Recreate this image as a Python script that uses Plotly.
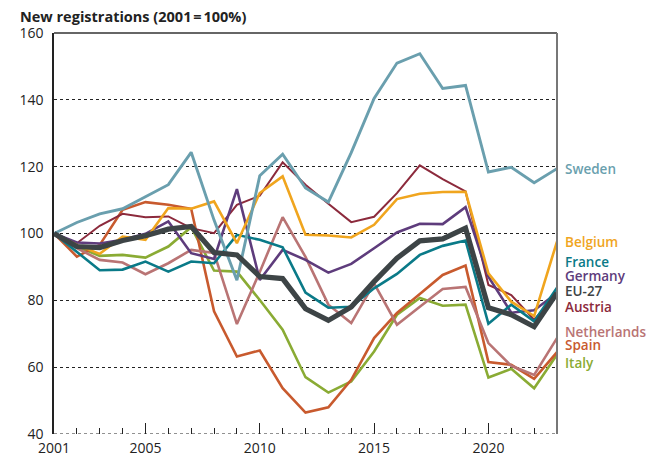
import plotly.graph_objects as go

years = list(range(2001, 2024))

sweden = [100, 103.3, 105.9, 107.4, 111.0, 114.6, 124.3, 104.0, 86.0, 117.3, 123.7, 113.6,
          109.4, 124.2, 140.4, 151.0, 153.8, 143.4, 144.3, 118.4, 119.8, 115.2, 119.4]
belgium = [100, 96.6, 93.9, 99.1, 98.1, 107.6, 107.4, 109.6, 97.1, 112.1, 117.1, 99.6,
           99.4, 98.8, 102.6, 110.3, 111.9, 112.4, 112.5, 88.1, 79.6, 75.3, 97.6]
france = [100, 94.5, 89.0, 89.2, 91.6, 88.6, 91.6, 91.1, 99.6, 98.1, 95.9, 82.3,
          77.8, 78.1, 83.6, 87.9, 93.6, 96.3, 97.9, 73.0, 78.7, 73.7, 83.8]
germany = [100, 97.3, 97.0, 98.1, 99.9, 103.6, 94.1, 92.4, 113.3, 86.1, 95.1, 92.1,
           88.3, 90.9, 95.6, 100.3, 102.9, 102.8, 107.9, 87.1, 76.3, 77.0, 82.2]
eu27 = [100, 96.1, 95.8, 97.9, 99.3, 101.3, 102.1, 94.3, 93.6, 87.1, 86.5, 77.5,
        74.0, 78.0, 85.6, 92.6, 97.8, 98.4, 101.6, 77.8, 75.7, 72.1, 82.2]
austria = [100, 97.1, 102.3, 105.9, 104.9, 105.1, 101.6, 100.1, 108.6, 111.3, 121.3, 114.6,
           108.9, 103.4, 105.0, 112.1, 120.4, 116.3, 112.6, 84.6, 81.6, 74.2, 82.0]
netherlands = [100, 95.6, 92.1, 91.3, 87.8, 91.1, 95.1, 94.2, 72.9, 88.5, 104.9, 93.0,
               78.7, 73.2, 85.1, 72.7, 78.1, 83.4, 84.0, 67.2, 60.4, 57.7, 68.7]
spain = [100, 93.1, 96.6, 107.1, 109.4, 108.6, 107.4, 76.7, 63.2, 65.0, 53.7, 46.4,
         48.0, 56.2, 68.7, 76.2, 81.9, 87.6, 90.4, 61.5, 60.7, 56.5, 64.5]
italy = [100, 96.1, 93.3, 93.6, 92.8, 96.1, 101.9, 88.9, 88.6, 80.1, 71.2, 57.0,
         52.4, 55.7, 64.7, 75.7, 80.7, 78.4, 78.7, 56.9, 59.5, 53.7, 63.7]

labels = ["Italy", "Spain", "Netherlands", "Austria", "Germany", "France", "Belgium", "Sweden", "EU-27"]
series = [italy, spain, netherlands, austria, germany, france, belgium, sweden, eu27]
colors = ["#8aab34", "#c85a2e", "#b97474", "#8c2a3c", "#5e3c7c", "#0a7a88", "#f0a51e", "#6a9fae", "#3d4446"]
widths = [2.6, 2.6, 2.6, 2.0, 2.6, 2.6, 2.6, 2.9, 5.2]

label_y = {"Sweden": 119.2, "Belgium": 97.4, "France": 91.4, "Germany": 87.3, "EU-27": 82.9,
           "Austria": 78.1, "Netherlands": 70.5, "Spain": 66.5, "Italy": 61.2}

xticks = [2001, 2005, 2010, 2015, 2020]
yticks = [40, 60, 80, 100, 120, 140, 160]

font_family = "Open Sans, Lato, sans-serif"

fig = go.Figure()
for name, vals, col, w in zip(labels, series, colors, widths):
    fig.add_trace(go.Scatter(x=years, y=vals, mode="lines", name=name,
                             line=dict(color=col, width=w), showlegend=False))

for name, col in zip(labels, colors):
    fig.add_annotation(x=1.0, xref="paper", y=label_y[name], yref="y", text=name,
                       showarrow=False, xanchor="left", yanchor="middle", xshift=6,
                       font=dict(color=col, size=13.5, family=font_family, weight=600))

fig.add_annotation(x=0, xref="paper", y=1, yref="paper", text="New registrations (2001\u202f=\u202f100%)",
                   showarrow=False, xanchor="left", yanchor="middle", xshift=-36, yshift=17,
                   font=dict(color="#222222", size=14.5, family=font_family, weight=700))

# frame: top and right lines, bottom dotted baseline
fig.add_shape(type="line", xref="paper", yref="paper", x0=0, x1=1, y0=1, y1=1,
              line=dict(color="#333333", width=1.5))
fig.add_shape(type="line", xref="paper", yref="paper", x0=1, x1=1, y0=0, y1=1,
              line=dict(color="#777777", width=2))
fig.add_shape(type="line", xref="paper", yref="y", x0=0, x1=1, y0=40, y1=40,
              line=dict(color="#222222", width=1, dash="dot"), layer="below")

# page body has an 8px default margin, so size the figure to land the plot area in place
fig.update_layout(
    width=651, height=449,
    margin=dict(l=46, r=102, t=25, b=23, autoexpand=False),
    paper_bgcolor="white", plot_bgcolor="white",
    font=dict(family=font_family, color="#222222", size=14),
    xaxis=dict(range=[2001, 2023], tickmode="array", tickvals=xticks,
               ticktext=[str(v) for v in xticks], automargin=False,
               ticks="inside", ticklen=11, tickcolor="#222222", tickwidth=1,
               ticklabelstandoff=4,
               minor=dict(ticks="inside", tickmode="array", tickvals=years,
                          ticklen=6, tickcolor="#222222", tickwidth=1),
               showgrid=False, zeroline=False, showline=False,
               tickfont=dict(size=14, color="#222222")),
    yaxis=dict(range=[40, 160], tickmode="array", tickvals=yticks, automargin=False,
               showgrid=True, gridcolor="#222222", griddash="dot", gridwidth=1,
               zeroline=False, showline=True, linecolor="#222222", linewidth=1.5,
               ticks="", ticklabelstandoff=6,
               tickfont=dict(size=14, color="#222222")),
)

fig.write_html("out.html")
